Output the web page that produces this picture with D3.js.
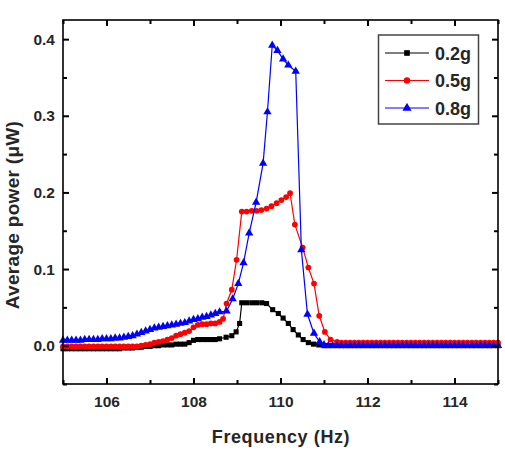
<html>
<script src='https://d3js.org/d3.v7.min.js'></script>
<style>
body {margin: 0; background: #fff;}
text {font-family: "Liberation Sans", Arial, sans-serif; font-weight: bold; fill: #262626;}
</style>
<body onload='init()'>
<svg width=505 height=453></svg>
<script>
// frequency (Hz) and average power (uW)
var f02 = [105.0,105.1,105.2,105.3,105.4,105.5,105.6,105.7,105.8,105.9,106.0,106.1,106.2,106.3,106.4,106.5,106.6,106.7,106.8,106.9,
  107.0,107.1,107.2,107.3,107.4,107.5,107.6,107.7,107.8,107.9,108.0,108.1,108.2,108.3,108.4,108.5,108.6,108.75,108.88,108.98,
  109.06,109.11,109.22,109.34,109.45,109.57,109.68,109.82,109.95,110.06,110.18,110.29,110.41,110.52,110.64,110.76,110.88,111.0,
  111.1,111.2,111.3,111.4,111.5,111.6,111.7,111.8,111.9,112.0,112.1,112.2,112.3,112.4,112.5,112.6,112.7,112.8,112.9,113.0,
  113.1,113.2,113.3,113.4,113.5,113.6,113.7,113.8,113.9,114.0,114.1,114.2,114.3,114.4,114.5,114.6,114.7,114.8,114.9,115.0];
var p02 = [-0.004,-0.004,-0.004,-0.004,-0.004,-0.004,-0.004,-0.004,-0.004,-0.004,-0.004,-0.004,-0.004,-0.004,-0.003,-0.003,-0.003,-0.002,-0.002,-0.001,
  -0.001,0.000,0.000,0.001,0.001,0.001,0.002,0.002,0.002,0.004,0.007,0.008,0.008,0.008,0.008,0.008,0.009,0.011,0.013,0.018,
  0.029,0.056,0.056,0.056,0.056,0.056,0.055,0.047,0.042,0.036,0.029,0.021,0.014,0.008,0.004,0.002,0.001,0.000,
  0,0,0,0,0,0,0,0,0,0,0,0,0,0,0,0,0,0,0,0,
  0,0,0,0,0,0,0,0,0,0,0,0,0,0,0,0,0,0,0,0];

var f05 = [105.0,105.1,105.2,105.3,105.4,105.5,105.6,105.7,105.8,105.9,106.0,106.1,106.2,106.3,106.4,106.5,106.6,106.7,106.8,106.9,
  107.0,107.1,107.2,107.3,107.4,107.5,107.6,107.7,107.8,107.9,108.0,108.1,108.2,108.3,108.4,108.5,108.6,108.68,108.76,108.88,
  108.99,109.11,109.22,109.34,109.45,109.56,109.68,109.79,109.91,110.02,110.13,110.22,110.33,110.51,110.64,110.77,110.89,111.02,
  111.15,111.3,111.4,111.5,111.6,111.7,111.8,111.9,112.0,112.1,112.2,112.3,112.4,112.5,112.6,112.7,112.8,112.9,113.0,
  113.1,113.2,113.3,113.4,113.5,113.6,113.7,113.8,113.9,114.0,114.1,114.2,114.3,114.4,114.5,114.6,114.7,114.8,114.9,115.0];
var p05 = [-0.001,-0.001,-0.001,-0.001,-0.001,-0.001,-0.001,-0.001,-0.001,-0.001,-0.001,-0.001,-0.001,-0.001,-0.001,-0.001,-0.001,-0.001,0.000,0.001,
  0.002,0.004,0.005,0.006,0.008,0.010,0.013,0.015,0.017,0.019,0.024,0.027,0.028,0.028,0.029,0.029,0.031,0.035,0.055,0.073,
  0.112,0.175,0.175,0.176,0.176,0.177,0.179,0.182,0.186,0.190,0.194,0.199,0.158,0.128,0.102,0.081,0.039,0.018,
  0.008,0.005,0.004,0.004,0.004,0.004,0.004,0.004,0.004,0.004,0.004,0.004,0.004,0.004,0.004,0.004,0.004,0.004,0.004,
  0.004,0.004,0.004,0.004,0.004,0.004,0.004,0.004,0.004,0.004,0.004,0.004,0.004,0.004,0.004,0.004,0.004,0.004,0.004,0.004];

var f08 = [105.0,105.1,105.2,105.3,105.4,105.5,105.6,105.7,105.8,105.9,106.0,106.1,106.2,106.3,106.4,106.5,106.6,106.7,106.8,106.9,
  107.0,107.1,107.2,107.3,107.4,107.5,107.6,107.7,107.8,107.9,108.0,108.1,108.2,108.3,108.4,108.5,108.6,108.76,108.9,109.03,
  109.15,109.28,109.44,109.6,109.7,109.81,109.93,110.06,110.18,110.35,110.48,110.62,110.77,110.9,111.0,
  111.1,111.2,111.3,111.4,111.5,111.6,111.7,111.8,111.9,112.0,112.1,112.2,112.3,112.4,112.5,112.6,112.7,112.8,112.9,113.0,
  113.1,113.2,113.3,113.4,113.5,113.6,113.7,113.8,113.9,114.0,114.1,114.2,114.3,114.4,114.5,114.6,114.7,114.8,114.9,115.0];
var p08 = [0.007,0.007,0.007,0.007,0.007,0.008,0.008,0.008,0.008,0.009,0.009,0.009,0.010,0.010,0.011,0.012,0.013,0.015,0.017,0.019,
  0.021,0.023,0.024,0.025,0.026,0.027,0.028,0.029,0.030,0.032,0.034,0.035,0.037,0.038,0.040,0.042,0.044,0.045,0.061,0.081,
  0.108,0.147,0.187,0.238,0.305,0.392,0.385,0.374,0.366,0.358,0.125,0.041,0.016,0.005,0.001,
  0,0,0,0,0,0,0,0,0,0,0,0,0,0,0,0,0,0,0,0,
  0,0,0,0,0,0,0,0,0,0,0,0,0,0,0,0,0,0,0,0];

var seriesNames = ["0.2g", "0.5g", "0.8g"];
var xTicks = [106, 108, 110, 112, 114];
var xMinor = [105, 107, 109, 111, 113, 115];
var yTicks = [0.0, 0.1, 0.2, 0.3, 0.4];
var yMinor = [-0.05, 0.05, 0.15, 0.25, 0.35];

function init() {
  var svg = d3.select("svg");
  var x = d3.scaleLinear().domain([105, 115]).range([63, 498]);
  var y = d3.scaleLinear().domain([-0.05, 0.425]).range([384, 20]);

  var series = [
    {name: seriesNames[0], f: f02, p: p02, color: "#000000", sym: d3.symbolSquare, size: 26},
    {name: seriesNames[1], f: f05, p: p05, color: "#ff0000", sym: d3.symbolCircle, size: 26},
    {name: seriesNames[2], f: f08, p: p08, color: "#0000ff", sym: d3.symbolTriangle, size: 30}
  ];

  var plot = svg.append("g");
  var line = d3.line().x(function(d) {return x(d[0]);}).y(function(d) {return y(d[1]);});

  series.forEach(function(s) {
    var pts = s.f.map(function(v, i) {return [v, s.p[i]];});
    plot.append("path")
      .attr("d", line(pts))
      .attr("fill", "none")
      .attr("stroke", s.color)
      .attr("stroke-width", 1.2);
    plot.selectAll(null)
      .data(pts)
      .enter()
      .append("path")
        .attr("d", d3.symbol().type(s.sym).size(s.size))
        .attr("transform", function(d) {return "translate(" + x(d[0]) + "," + y(d[1]) + ")";})
        .attr("fill", s.color);
  });

  // frame
  svg.append("rect")
    .attr("x", 63).attr("y", 20).attr("width", 435).attr("height", 364)
    .attr("fill", "none").attr("stroke", "#000").attr("stroke-width", 1.6);

  // ticks inside on all four sides (negative size = pointing in)
  function tickGroup(axis, t) {
    var g = svg.append("g").attr("transform", t).call(axis);
    g.select(".domain").remove();
    g.selectAll(".tick line").style("stroke", "#000").style("stroke-width", "2px");
    g.selectAll(".tick text").attr("font-size", 15.5)
      .style("font-family", "'Liberation Sans', Arial, sans-serif")
      .style("font-weight", "bold").style("fill", "#262626");
    return g;
  }
  var blank = function() {return "";};
  tickGroup(d3.axisBottom(x).tickValues(xMinor).tickSize(-4).tickFormat(blank), "translate(0,384)");
  tickGroup(d3.axisTop(x).tickValues(xMinor).tickSize(-4).tickFormat(blank), "translate(0,20)");
  tickGroup(d3.axisLeft(y).tickValues(yMinor).tickSize(-4).tickFormat(blank), "translate(63,0)");
  tickGroup(d3.axisRight(y).tickValues(yMinor).tickSize(-4).tickFormat(blank), "translate(498,0)");
  tickGroup(d3.axisBottom(x).tickValues(xTicks).tickSize(-6).tickPadding(12).tickFormat(d3.format("d")), "translate(0,384)");
  tickGroup(d3.axisTop(x).tickValues(xTicks).tickSize(-6).tickFormat(blank), "translate(0,20)");
  tickGroup(d3.axisLeft(y).tickValues(yTicks).tickSize(-6).tickPadding(8).tickFormat(d3.format(".1f")), "translate(63,0)");
  tickGroup(d3.axisRight(y).tickValues(yTicks).tickSize(-6).tickFormat(blank), "translate(498,0)");

  svg.append("text")
    .attr("x", 281).attr("y", 443)
    .attr("text-anchor", "middle")
    .attr("font-size", 18)
    .attr("letter-spacing", 0.6)
    .text("Frequency (Hz)");
  svg.append("text")
    .attr("transform", "translate(19,215) rotate(-90)")
    .attr("text-anchor", "middle")
    .attr("font-size", 19)
    .attr("letter-spacing", 0.3)
    .text("Average power (\u03bcW)");

  // legend
  var leg = svg.append("g");
  leg.append("rect")
    .attr("x", 378.5).attr("y", 35).attr("width", 100).attr("height", 89)
    .attr("fill", "#fff").attr("stroke", "#444").attr("stroke-width", 1.5);
  series.forEach(function(s, i) {
    var cy = 53 + i * 27.5;
    leg.append("line").attr("x1", 385).attr("x2", 429).attr("y1", cy).attr("y2", cy)
      .attr("stroke", s.color).attr("stroke-width", 1.2);
    leg.append("path").attr("d", d3.symbol().type(s.sym).size(s.size + 6))
      .attr("transform", "translate(407," + cy + ")").attr("fill", s.color);
    leg.append("text").attr("x", 435).attr("y", cy + 6.5)
      .attr("font-size", 18).text(s.name);
  });
}
</script>
</body>
</html>
